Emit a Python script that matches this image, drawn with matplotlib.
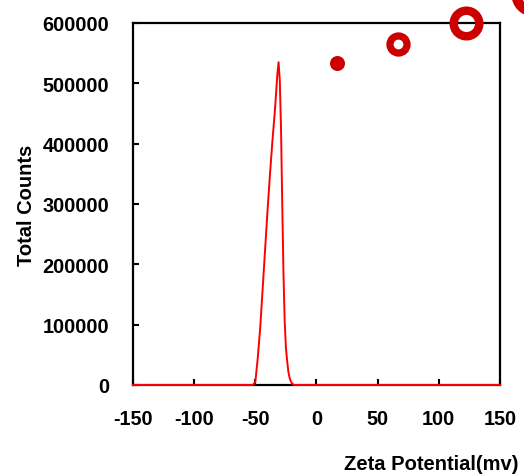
import matplotlib
matplotlib.use("Agg")
import matplotlib.pyplot as plt

# zeta potential distribution (mV vs total counts)
zeta = [-150, -52, -50, -48, -46, -44, -42, -40, -38, -36, -34, -33, -32, -31,
        -30, -29, -28, -27, -26, -25, -24, -23, -22, -21, -20, -19, -18, 150]
counts = [0, 0, 5000, 45000, 95000, 160000, 225000, 290000, 350000, 405000,
          455000, 485000, 515000, 535000, 505000, 425000, 300000, 185000, 105000,
          62000, 40000, 22000, 12000, 6000, 2500, 800, 0, 0]

# decorative red bubbles at the top
bubble_x = [16.8, 66.4, 122.1, 177.0]
bubble_y = [533700, 565200, 600000, 648000]
bubble_ms = [10.8, 12.3, 18.4, 24.5]
bubble_mew = [0, 5.2, 6.1, 7.2]
bubble_filled = [True, False, False, False]

xticks = [-150, -100, -50, 0, 50, 100, 150]
yticks = [0, 100000, 200000, 300000, 400000, 500000, 600000]

plt.rcParams['font.family'] = ['Liberation Sans', 'DejaVu Sans']
plt.rcParams['font.weight'] = 'bold'

fig = plt.figure(figsize=(5.24, 4.77), dpi=100)
ax = fig.add_axes([0.2538, 0.1908, 0.7004, 0.7589])

ax.plot(zeta, counts, color='#ff0000', lw=1.4, zorder=3, clip_on=False)

for x, y, ms, mew, filled in zip(bubble_x, bubble_y, bubble_ms, bubble_mew, bubble_filled):
    if filled:
        ax.plot(x, y, 'o', color='#cc0000', ms=ms, mew=0, clip_on=False, zorder=4)
    else:
        ax.plot(x, y, 'o', mfc='none', mec='#cc0000', ms=ms, mew=mew,
                clip_on=False, zorder=4)

ax.set_xlim(-150, 150)
ax.set_ylim(0, 600000)
ax.set_xticks(xticks)
ax.set_yticks(yticks)
ax.set_xticklabels([str(t) for t in xticks], fontsize=14.3, fontweight='bold')
ax.set_yticklabels([str(t) for t in yticks], fontsize=14.3, fontweight='bold')
ax.tick_params(direction='in', length=4, width=1.5, pad=17)
for s in ax.spines.values():
    s.set_linewidth(1.6)

ax.set_ylabel('Total Counts', fontsize=14.5, fontweight='bold', labelpad=5)
fig.text(518 / 524, 1 - 465 / 477, 'Zeta Potential(mv)', fontsize=14.5,
         fontweight='bold', ha='right', va='center')

fig.savefig('out.png', dpi=100)
